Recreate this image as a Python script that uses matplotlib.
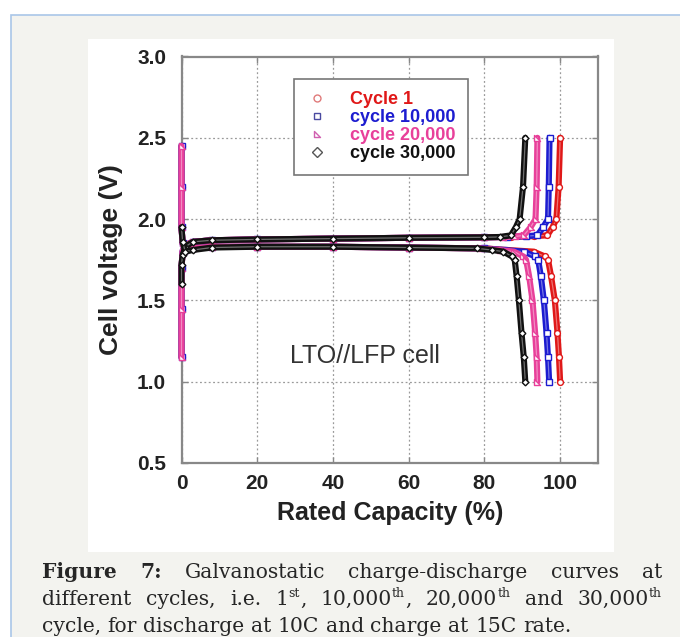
import numpy as np
import matplotlib.pyplot as plt
from matplotlib.lines import Line2D
from matplotlib.path import Path
from matplotlib.patches import Rectangle

plt.rcParams['font.family'] = ['Liberation Sans', 'DejaVu Sans']

# ---- data (capacity %, voltage V) ----
labels = ['Cycle 1', 'cycle 10,000', 'cycle 20,000', 'cycle 30,000']

# charge curves (upper plateau)
chg_cap_1 = [0, 0, 0, 0.3, 1, 3, 8, 20, 40, 60, 80, 87, 93, 96.6, 98, 99, 99.6, 100]
chg_v_1 = [1.15, 1.45, 1.70, 1.80, 1.84, 1.86, 1.87, 1.875, 1.88, 1.885, 1.888, 1.89, 1.895, 1.90, 1.95, 2.00, 2.20, 2.50]
chg_cap_2 = [0, 0, 0, 0.3, 1, 3, 8, 20, 40, 60, 80, 86, 91, 94, 95.5, 96.8, 97, 97.2]
chg_v_2 = [1.15, 1.45, 1.70, 1.80, 1.84, 1.86, 1.87, 1.875, 1.88, 1.885, 1.888, 1.89, 1.895, 1.90, 1.95, 2.00, 2.20, 2.50]
chg_cap_3 = [0, 0, 0, 0.3, 1, 3, 8, 20, 40, 60, 80, 85, 88, 90.4, 92.2, 93.5, 93.8, 94]
chg_v_3 = [1.15, 1.45, 1.70, 1.80, 1.84, 1.86, 1.87, 1.875, 1.88, 1.885, 1.888, 1.89, 1.893, 1.90, 1.95, 2.00, 2.20, 2.50]
chg_cap_4 = [0, 0, 0.3, 1, 3, 8, 20, 40, 60, 80, 84, 87, 88.3, 89.3, 90.2, 90.8]
chg_v_4 = [1.60, 1.72, 1.78, 1.83, 1.86, 1.87, 1.875, 1.88, 1.885, 1.888, 1.89, 1.90, 1.95, 2.00, 2.20, 2.50]

# discharge curves (lower plateau)
dis_cap_1 = [0, 0, 0, 0.3, 1, 3, 8, 20, 40, 60, 80, 86, 93, 96, 96.8, 97.6, 98.6, 99.3, 99.7, 100]
dis_v_1 = [2.45, 2.20, 1.95, 1.85, 1.81, 1.82, 1.83, 1.83, 1.83, 1.825, 1.82, 1.81, 1.80, 1.77, 1.75, 1.65, 1.50, 1.30, 1.15, 1.00]
dis_cap_2 = [0, 0, 0, 0.3, 1, 3, 8, 20, 40, 60, 80, 85, 90.5, 93.4, 94.2, 94.9, 95.7, 96.4, 96.8, 97.1]
dis_v_2 = [2.45, 2.20, 1.95, 1.85, 1.81, 1.82, 1.83, 1.83, 1.83, 1.825, 1.82, 1.81, 1.80, 1.77, 1.75, 1.65, 1.50, 1.30, 1.15, 1.00]
dis_cap_3 = [0, 0, 0, 0.3, 1, 3, 8, 20, 40, 60, 79, 84, 87.8, 90.3, 91, 91.8, 92.7, 93.4, 93.8, 94]
dis_v_3 = [2.45, 2.20, 1.95, 1.85, 1.81, 1.82, 1.83, 1.83, 1.83, 1.825, 1.82, 1.81, 1.80, 1.77, 1.75, 1.65, 1.50, 1.30, 1.15, 1.00]
dis_cap_4 = [0, 0.3, 1, 3, 8, 20, 40, 60, 78, 82, 85, 87.3, 88, 88.5, 89.1, 89.8, 90.4, 90.8]
dis_v_4 = [1.95, 1.86, 1.80, 1.81, 1.825, 1.83, 1.83, 1.825, 1.82, 1.81, 1.80, 1.77, 1.75, 1.65, 1.50, 1.30, 1.15, 1.00]

xticks = [0, 20, 40, 60, 80, 100]
yticks = [0.5, 1.0, 1.5, 2.0, 2.5, 3.0]

caption_lines = [
    [[('Figure', 'b')], [('7:', 'b')], [('Galvanostatic', 'n')], [('charge-discharge', 'n')],
     [('curves', 'n')], [('at', 'n')]],
    [[('different', 'n')], [('cycles,', 'n')], [('i.e.', 'n')], [('1', 'n'), ('st', 's'), (',', 'n')],
     [('10,000', 'n'), ('th', 's'), (',', 'n')], [('20,000', 'n'), ('th', 's')], [('and', 'n')],
     [('30,000', 'n'), ('th', 's')]],
    [[(w, 'n')] for w in 'cycle, for discharge at 10C and charge at 15C rate.'.split()],
]

# ---- styles ----
colors = ['#e01818', '#1c1cd0', '#e8409a', '#111111']
leg_marker_colors = ['#e07a7a', '#4a4aa0', '#d060b0', '#555555']
tri = Path([(-1, 1), (-1, -1), (1, -1), (-1, 1)], [Path.MOVETO, Path.LINETO, Path.LINETO, Path.CLOSEPOLY])
markers = ['o', 's', tri, 'D']
msizes = [4.2, 4.0, 4.2, 3.4]

W, H = 680, 637
fig = plt.figure(figsize=(W / 100, H / 100), dpi=100)
fig.patch.set_facecolor('white')

# page frame + white picture panel (drawn below the axes)
fig.patches.append(Rectangle((10.5 / W, -0.02), 1.0, 1 - 15 / H + 0.02, transform=fig.transFigure,
                             facecolor='#f3f3ef', edgecolor='#a9c6e8', lw=1.2, zorder=-3))
fig.patches.append(Rectangle((88 / W, 1 - 552 / H), (614 - 88) / W, (552 - 39) / H, transform=fig.transFigure,
                             facecolor='white', edgecolor='none', zorder=-2))

ax = fig.add_axes([181.5 / W, 1 - 463 / H, (598 - 181.5) / W, (463 - 56.5) / H])
ax.set_xlim(0, 110)
ax.set_ylim(0.5, 3.0)

curves = [(chg_cap_1, chg_v_1, dis_cap_1, dis_v_1),
          (chg_cap_2, chg_v_2, dis_cap_2, dis_v_2),
          (chg_cap_3, chg_v_3, dis_cap_3, dis_v_3),
          (chg_cap_4, chg_v_4, dis_cap_4, dis_v_4)]

for i, (cc, cv, dc, dv) in enumerate(curves):
    for xs, ys in [(cc, cv), (dc, dv)]:
        ax.plot(xs, ys, color=colors[i], lw=4.4, solid_capstyle='round', solid_joinstyle='round',
                clip_on=False, zorder=3 + i)
        ax.plot(xs, ys, color='white', lw=0.9, alpha=0.4, clip_on=False, zorder=3 + i)
        ax.plot(xs, ys, ls='none', marker=markers[i], ms=msizes[i], mfc='white', mec=colors[i], mew=1.0,
                clip_on=False, zorder=3 + i)

ax.set_xticks(xticks)
ax.set_yticks(yticks)
ax.set_xticklabels([str(t) for t in xticks])
ax.set_yticklabels(['%.1f' % t for t in yticks])
ax.tick_params(direction='in', length=4, width=1, color='#888888', top=True, right=True,
               labelsize=15, labelcolor='#222222')
ax.tick_params(axis='y', pad=11)
ax.tick_params(axis='x', pad=8)
for lab in ax.get_xticklabels() + ax.get_yticklabels():
    lab.set_fontweight('bold')
ax.grid(True, color='#9a9a9a', lw=0.9, ls=(0, (1.5, 2)))
ax.set_axisbelow(True)
for s in ax.spines.values():
    s.set_color('#888888')
    s.set_linewidth(1.6)

ax.set_xlabel('Rated Capacity (%)', fontsize=18, fontweight='bold', color='#222222', labelpad=6)
ax.set_ylabel('Cell voltage (V)', fontsize=19, fontweight='bold', color='#222222', labelpad=10)

ax.text(48.5, 1.16, 'LTO//LFP cell', fontsize=18, color='#333333', ha='center', va='center', zorder=10)

handles = [Line2D([], [], ls='none', marker=markers[i], ms=5, mfc='white', mec=leg_marker_colors[i], mew=1.0)
           for i in range(4)]
leg = ax.legend(handles, labels, loc='upper left', bbox_to_anchor=(0.269, 0.945), fontsize=13,
                frameon=True, fancybox=False, edgecolor='#777777', framealpha=1, handlelength=1.2,
                handletextpad=1.2, labelspacing=0.05, borderpad=0.7, borderaxespad=0)
leg.get_frame().set_linewidth(1.2)
leg.set_zorder(20)
for t, c in zip(leg.get_texts(), colors):
    t.set_color(c)
    t.set_fontweight('bold')

# ---- caption, justified like the page ----
renderer = fig.canvas.get_renderer()
cap_family = ['DejaVu Serif']
cap_color = '#262626'


def piece_width(txt, style, size):
    t = fig.text(0, 0, txt, fontsize=size * (0.62 if style == 's' else 1), family=cap_family,
                 fontweight='bold' if style == 'b' else 'normal')
    w = t.get_window_extent(renderer).width
    t.remove()
    return w


def word_width(word, size):
    return sum(piece_width(t, s, size) for t, s in word)


base = 12.0
line3_w = sum(word_width(w, base) for w in caption_lines[2]) + piece_width(' ', 'n', base) * (len(caption_lines[2]) - 1)
cap_size = base * 525.0 / line3_w

x_left, x_right = 42.0, 662.0
baselines = [578, 605, 632]
for li, words in enumerate(caption_lines):
    widths = [word_width(w, cap_size) for w in words]
    if li < 2:
        gap = (x_right - x_left - sum(widths)) / (len(words) - 1)
    else:
        gap = piece_width(' ', 'n', cap_size)
    x = x_left
    for word, ww in zip(words, widths):
        xx = x
        for txt, style in word:
            size = cap_size * (0.62 if style == 's' else 1)
            yy = baselines[li] - (8 if style == 's' else 0)
            fig.text(xx / W, 1 - yy / H, txt, fontsize=size, family=cap_family, color=cap_color,
                     fontweight='bold' if style == 'b' else 'normal', va='baseline', ha='left')
            xx += piece_width(txt, style, cap_size)
        x += ww + gap

fig.savefig('out.png', dpi=100)
